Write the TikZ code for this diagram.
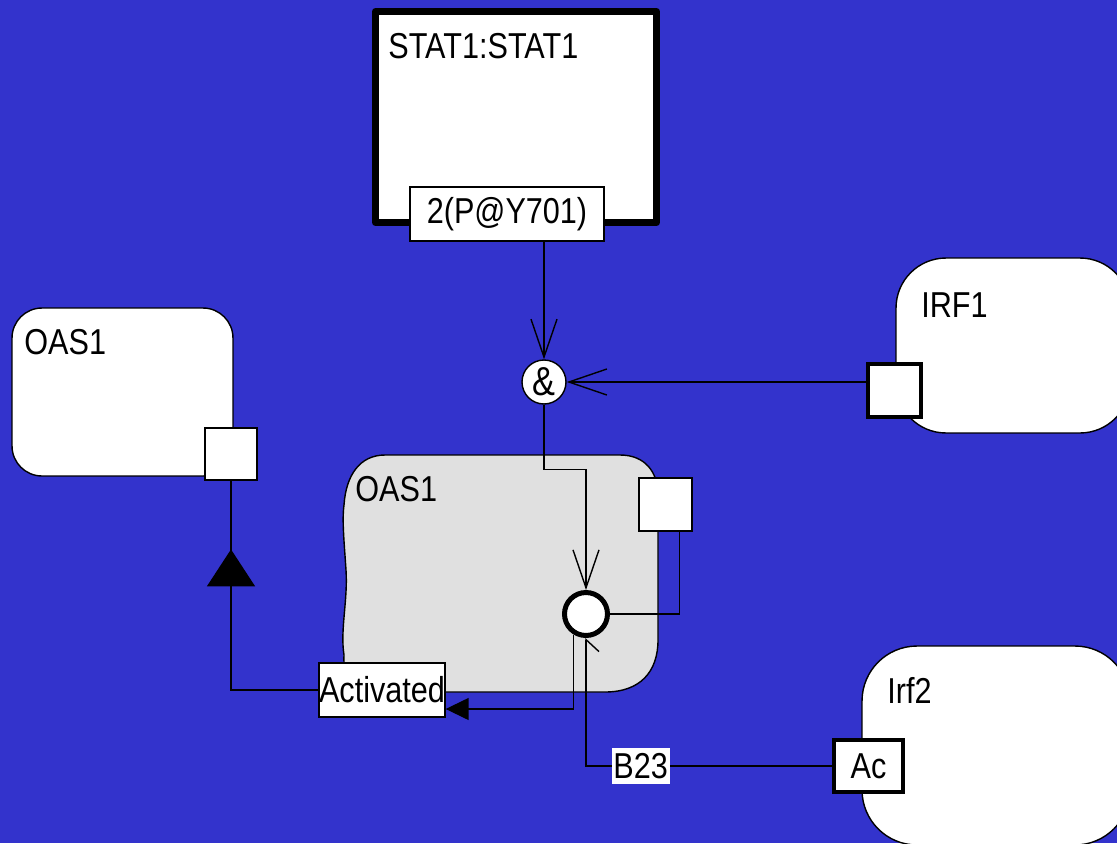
\documentclass[tikz,border=0pt]{standalone}
\usepackage{fontspec}
\setmainfont{Liberation Sans}[FakeStretch=0.85]
\usetikzlibrary{arrows.meta, positioning, decorations.markings}
\definecolor{bgblue}{RGB}{51,51,204}

\begin{document}
\begin{tikzpicture}[
    x=0.02cm, y=-0.02cm,
    every node/.style={font=\fontsize{20.5}{24}\selectfont},
    mol/.style={rectangle, draw=black, fill=white, line width=0.8pt},
    complex/.style={rectangle, draw=black, fill=white, line width=0.14cm, line join=round},
    site/.style={rectangle, draw=black, fill=white, line width=0.8pt, inner sep=0pt, minimum size=1.06cm},
    bsite/.style={site, line width=0.08cm},
    tag/.style={anchor=base west, inner sep=0pt},
    gate/.style={circle, draw=black, fill=white, line width=0.8pt, inner sep=0pt, minimum size=0.88cm,
        font=\fontsize{23}{26}\selectfont},
    trans/.style={circle, draw=black, fill=white, line width=0.1cm, inner sep=0pt, minimum size=0.86cm},
    link/.style={draw=black, line width=0.8pt},
    stim/.style={link, -{Straight Barb[length=0.76cm, width=0.52cm]}},
    prod/.style={link, -{Triangle[length=0.46cm, width=0.44cm]}},
    midtri/.style={link, postaction={decorate}, decoration={markings,
        mark=at position 4.56cm with {\arrow{Triangle[length=0.74cm, width=0.96cm]}}}},
    edgetag/.style={fill=white, inner xsep=1pt, inner ysep=3pt}
]

    % Canvas
    \useasboundingbox (0,0) rectangle (1117,843);
    \clip (0,0) rectangle (1117,843);
    \fill[bgblue] (0,0) rectangle (1117,843);

    % STAT1 complex
    \node[complex, minimum width=5.62cm, minimum height=4.22cm] (stat1) at (516,117) {};
    \node[tag] (stat1lbl) at (388,58) {STAT1:STAT1};
    \node[site, minimum width=3.88cm, minimum height=1.08cm] (p701) at (507,214) {2(P@Y701)};

    % IRF1
    \node[mol, rounded corners=1cm, minimum width=4.68cm, minimum height=3.5cm] (irf1) at (1013,345.5) {};
    \node[tag] (irf1lbl) at (921,317) {IRF1};
    \node[bsite] (irfport) at (894.5,390) {};

    % OAS1 (left)
    \node[mol, rounded corners=0.6cm, minimum width=4.42cm, minimum height=3.36cm] (oasA) at (122.5,392) {};
    \node[tag] (oasAlbl) at (24,354) {OAS1};
    \node[site, minimum size=1.04cm] (oasAport) at (231,454) {};

    % OAS1 (grey)
    \draw[link, fill=black!12] (385,455) -- (620,455)
        .. controls (645,455) and (658,472) .. (658,495) -- (658,640)
        .. controls (658,672) and (640,692) .. (605,692) -- (385,692)
        .. controls (360,692) and (342,680) .. (344,655)
        .. controls (340,630) and (348,600) .. (346,570)
        .. controls (344,540) and (342,520) .. (344,505)
        .. controls (346,475) and (360,455) .. (385,455) -- cycle;
    \node[tag] (oasBlbl) at (355,501) {OAS1};
    \node[site] (oasBport) at (665.5,504.5) {};
    \node[trans] (trans) at (586,614) {};
    \node[site, minimum width=2.52cm, minimum height=1.08cm] (actv) at (382,690) {Activated};

    % Irf2
    \node[mol, rounded corners=1.1cm, minimum width=5.36cm, minimum height=3.98cm] (irf2) at (996,745.5) {};
    \node[tag] (irf2lbl) at (887,703) {Irf2};
    \node[bsite, minimum width=1.38cm, minimum height=1.04cm] (ac) at (868.5,766) {Ac};

    % Logic gate
    \node[gate] (gate) at (544,382) {\&};

    % Connections
    \draw[stim] (p701.south -| gate.north) -- (gate.north);
    \draw[stim] (irfport.west |- gate.east) -- (gate.east);
    \draw[stim] (gate.south) -- ++(0,65) -| (trans.north);
    \draw[link] (oasBport.south) ++(14,0) |- (trans.east);
    \draw[prod] (trans.239) |- ([yshift=-0.38cm]actv.east);
    \draw[midtri] (actv.west) -| (oasAport.south);
    \draw[link, -{Straight Barb[right, length=0.24cm, width=0.52cm]}] (ac.west)
        -| node[edgetag, pos=0.389] {B23} (trans.south);

\end{tikzpicture}
\end{document}
